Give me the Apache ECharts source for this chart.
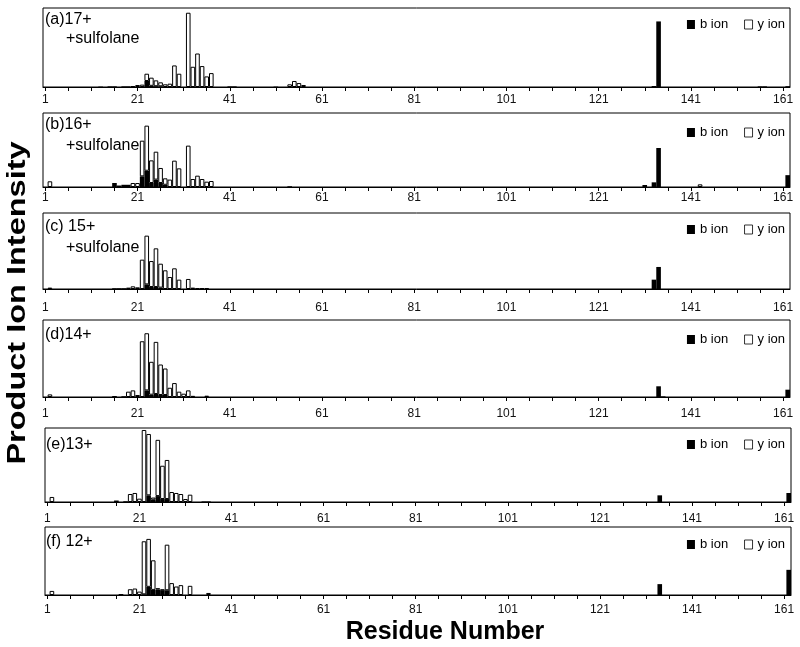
<!DOCTYPE html>
<html><head><meta charset="utf-8">
<script src="https://cdn.jsdelivr.net/npm/echarts/dist/echarts.min.js"></script>
<style>html,body{margin:0;padding:0;background:#fff}#c{width:800px;height:647px}</style>
</head><body><div id="c"></div>
<script>
// ---- data (intensity in % of each panel's full scale) ----
const residueCount = 162;
const tickLabels = ['1','21','41','61','81','101','121','141','161'];
const panelLabels = ['(a)17+', '(b)16+', '(c) 15+', '(d)14+', '(e)13+', '(f) 12+'];
const panelSubLabels = ['+sulfolane', '+sulfolane', '+sulfolane', '', '', ''];

const bIonA = [[13,0.5],[15,0.8],[16,0.8],[18,0.8],[19,0.8],[23,7.6],[24,1.5],[25,1],[26,0.9],[41,0.8],[42,0.8],[51,0.5],[133,1.3],[134,83],[156,0.8],[157,0.8],[162,1]];
const yIonA = [[20,1],[21,2.5],[22,3],[23,9.2],[24,10.3],[25,7.4],[26,5],[27,3.4],[28,4.2],[29,27.3],[30,16.8],[32,94],[33,25.6],[34,42.4],[35,26.5],[36,13.4],[37,17.6],[54,3.4],[55,7.6],[56,5],[57,2.5]];

const bIonB = [[16,5.4],[17,2],[18,3],[19,3],[22,14.4],[23,22],[24,5.4],[25,10],[26,5.4],[27,3],[54,1],[131,2.7],[133,6.3],[134,52.7],[162,16]];
const yIonB = [[2,7.7],[20,5.4],[21,5.4],[22,48.2],[23,60.9],[24,30.6],[25,37.7],[26,20.3],[27,8.7],[28,10],[29,35.6],[30,25.2],[32,55.9],[33,10.8],[34,15.3],[35,10.8],[36,7.2],[37,8.1],[143,3.6]];

const bIonC = [[16,1],[17,1],[18,1],[23,6.1],[24,2.6],[25,2.6],[26,1.8],[133,12.3],[134,29]];
const yIonC = [[2,1.8],[19,1.8],[20,3.5],[21,2.2],[22,38.6],[23,64.1],[24,34.2],[25,50.9],[26,31.5],[27,24.6],[28,15.8],[29,27.2],[30,12.3],[32,13.2],[33,1.8],[34,1],[35,1],[36,1]];

const bIonD = [[16,1.3],[18,1],[23,8.6],[24,3],[25,3.9],[26,2.6],[27,2.6],[134,13.9],[135,0.8],[162,9.5]];
const yIonD = [[2,3.4],[19,6.9],[20,8.6],[21,2.6],[22,72.4],[23,74.2],[24,42.7],[25,67.7],[26,39.6],[27,34.4],[28,12],[29,18.1],[30,6.9],[31,4.3],[32,8.6],[33,1.5],[36,1.7]];

const bIonE = [[16,2],[18,1],[23,9],[24,3],[25,8],[26,4],[27,4],[35,0.8],[36,0.8],[134,9],[162,12.2]];
const yIonE = [[2,6.8],[19,10.8],[20,12.2],[21,4.5],[22,97.3],[23,82.9],[24,3],[25,76],[26,45],[27,52.8],[28,13.5],[29,12.2],[30,10.8],[31,4],[32,9.9]];

const bIonF = [[17,1.5],[22,1],[23,12],[24,7.5],[25,8],[26,7],[27,7],[134,16],[162,37]];
const yIonF = [[2,6],[19,8.5],[20,9.5],[21,5],[22,78],[23,70.5],[24,43.5],[25,2],[26,1],[27,67],[28,17.5],[29,12.5],[30,14.5],[32,13.5],[36,3]];

const bIon = [bIonA, bIonB, bIonC, bIonD, bIonE, bIonF];
const yIon = [yIonA, yIonB, yIonC, yIonD, yIonE, yIonF];

// ---- layout ----
const grids = [
  {left: 43, top: 8,   width: 747, height: 79},
  {left: 43, top: 113, width: 747, height: 74},
  {left: 43, top: 213, width: 747, height: 76},
  {left: 43, top: 320, width: 747, height: 77},
  {left: 45, top: 428, width: 746, height: 74},
  {left: 45, top: 527, width: 746, height: 68}
];
const labelMargins = [7, 5, 13, 11, 11, 9];
const legendTops = [13, 121, 218, 328, 433, 533];
const textPos = [[45,12,66,31],[45,117,66,138],[45,219,66,240],[45,327,0,0],[46,437,0,0],[46,534,0,0]];

const FONT = '"Liberation Sans", Arial, sans-serif';
const categories = [];
for (let i = 1; i <= residueCount; i++) categories.push(String(i));

function full(pairs) {
  const arr = new Array(residueCount).fill(null);
  pairs.forEach(([r, v]) => { arr[r - 1] = v; });
  return arr;
}

const option = {
  animation: false,
  backgroundColor: '#fff',
  grid: [], xAxis: [], yAxis: [], series: [], legend: [], graphic: []
};

grids.forEach((g, i) => {
  option.grid.push(Object.assign({show: true, borderColor: '#000', borderWidth: 1, backgroundColor: 'transparent'}, g));
  option.xAxis.push({
    type: 'category', gridIndex: i, data: categories, boundaryGap: true,
    axisLine: {show: true, lineStyle: {color: '#000', width: 1}},
    axisTick: {show: true, alignWithLabel: true, length: 4, interval: (idx) => idx % 5 === 0, lineStyle: {color: '#000'}},
    axisLabel: {
      show: true, margin: labelMargins[i], fontSize: 12, color: '#111', fontFamily: FONT,
      interval: (idx, val) => tickLabels.indexOf(val) >= 0
    },
    splitLine: {show: false}
  });
  option.yAxis.push({type: 'value', gridIndex: i, min: 0, max: 100, show: false, splitLine: {show: false}});
  option.series.push({
    type: 'bar', name: 'b ion', xAxisIndex: i, yAxisIndex: i, stack: 'p' + i,
    data: full(bIon[i]), barCategoryGap: '0%', barGap: '0%',
    itemStyle: {color: '#000'}
  });
  option.series.push({
    type: 'bar', name: 'y ion', xAxisIndex: i, yAxisIndex: i, stack: 'p' + i,
    data: full(yIon[i]), barCategoryGap: '0%', barGap: '0%',
    itemStyle: {color: '#fff', borderColor: '#000', borderWidth: 1}
  });
  option.legend.push({
    data: ['b ion', 'y ion'], right: 10, top: legendTops[i], icon: 'rect',
    itemWidth: 8, itemHeight: 9, itemGap: 16, selectedMode: false,
    itemStyle: {borderWidth: 0.8},
    textStyle: {fontSize: 13, color: '#000', fontFamily: FONT}
  });
  const tp = textPos[i];
  option.graphic.push({type: 'text', left: tp[0], top: tp[1], style: {text: panelLabels[i], font: '16px ' + FONT, fill: '#000'}});
  if (panelSubLabels[i]) {
    option.graphic.push({type: 'text', left: tp[2], top: tp[3], style: {text: panelSubLabels[i], font: '16px ' + FONT, fill: '#000'}});
  }
});

option.graphic.push({
  type: 'text', x: 18, y: 303, rotation: Math.PI / 2, scaleX: 1.3,
  style: {text: 'Product Ion Intensity', font: 'bold 25px ' + FONT, fill: '#000', align: 'center', verticalAlign: 'middle'}
});
option.graphic.push({
  type: 'text', x: 445, y: 632,
  style: {text: 'Residue Number', font: 'bold 25px ' + FONT, fill: '#000', align: 'center', verticalAlign: 'middle'}
});

const chart = echarts.init(document.getElementById('c'), null, {renderer: 'canvas'});
chart.setOption(option);
</script>
</body></html>
